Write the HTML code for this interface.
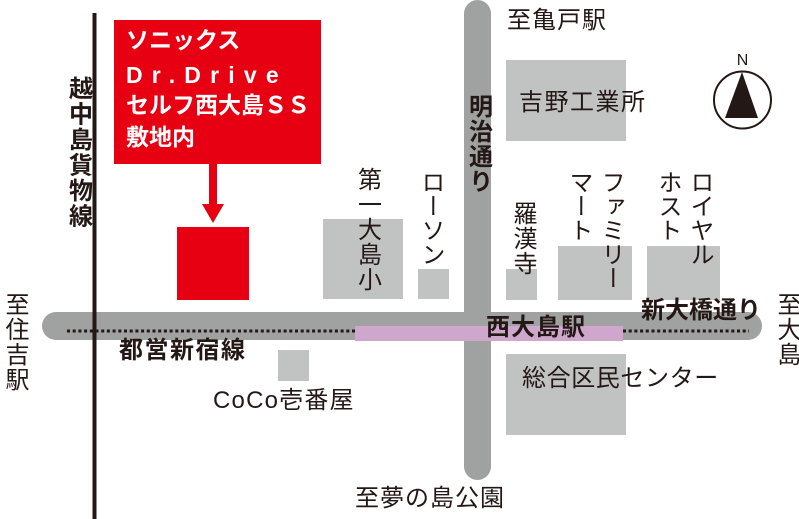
<!DOCTYPE html>
<html><head><meta charset="utf-8">
<style>
html,body{margin:0;padding:0;background:#fff;}
body{width:799px;height:519px;position:relative;overflow:hidden;font-family:"Liberation Sans","Noto Sans CJK JP",sans-serif;color:#231815;}
svg{position:absolute;left:0;top:0;}
.t{position:absolute;white-space:nowrap;font-size:24px;line-height:24px;}
.v{position:absolute;white-space:nowrap;font-size:24px;line-height:24px;writing-mode:vertical-rl;text-orientation:mixed;}
.b{font-weight:bold;}
.w{color:#fff;font-weight:bold;font-size:23px;line-height:23px;}
</style></head>
<body>
<svg width="799" height="519" viewBox="0 0 799 519">
  <!-- gray buildings -->
  <g fill="#c1c2c2">
    <rect x="506" y="60" width="120" height="81"/>
    <rect x="323" y="219" width="80" height="80"/>
    <rect x="418" y="269" width="31" height="30"/>
    <rect x="506" y="269" width="31" height="31"/>
    <rect x="558" y="246" width="74" height="54"/>
    <rect x="647" y="246" width="73" height="54"/>
    <rect x="506" y="354" width="120" height="81"/>
    <rect x="278" y="350" width="31" height="31"/>
  </g>
  <!-- roads -->
  <rect x="464" y="0" width="27" height="480" rx="13.5" fill="#a0a1a1"/>
  <rect x="42" y="312" width="720" height="28" rx="14" fill="#a0a1a1"/>
  <!-- station pink -->
  <rect x="355" y="326" width="268" height="15" fill="#cfa7cd"/>
  <!-- dotted rail -->
  <line x1="67" y1="331" x2="355" y2="331" stroke="#231815" stroke-width="3" stroke-dasharray="3 2.7"/>
  <line x1="623" y1="331" x2="749" y2="331" stroke="#231815" stroke-width="3" stroke-dasharray="3 2.7"/>
  <!-- black freight line -->
  <rect x="92.5" y="13" width="4" height="506" fill="#231815"/>
  <!-- red callout -->
  <rect x="114" y="20" width="207" height="144" fill="#e60012"/>
  <rect x="209" y="163" width="8" height="43" fill="#e60012"/>
  <polygon points="202,204 224,204 213,223" fill="#e60012"/>
  <rect x="177" y="227" width="72" height="73" fill="#e60012"/>
  <!-- compass -->
  <circle cx="742.5" cy="100" r="28.5" fill="none" stroke="#231815" stroke-width="2"/>
  <polygon points="742,72 725,118 758,118" fill="#231815"/>
  <text x="742.5" y="65" font-family="Liberation Sans, sans-serif" font-size="16" text-anchor="middle" fill="#231815">N</text>
</svg>

<!-- red box text -->
<div class="t w" style="left:126px;top:29px;">ソニックス</div>
<div class="t w" style="left:126px;top:64px;letter-spacing:9.2px;">Dr.Drive</div>
<div class="t w" style="left:126px;top:94px;">セルフ西大島ＳＳ</div>
<div class="t w" style="left:126px;top:126px;">敷地内</div>

<!-- vertical labels -->
<div class="v b" style="left:65.5px;top:76px;letter-spacing:1.5px;">越中島貨物線</div>
<div class="v b" style="left:465.5px;top:94px;letter-spacing:1px;">明治通り</div>
<div class="v" style="left:354.5px;top:167px;letter-spacing:1px;">第一大島小</div>
<div class="v" style="left:418px;top:170px;">ローソン</div>
<div class="v" style="left:510px;top:201px;letter-spacing:1px;">羅漢寺</div>
<div class="v" style="left:566px;top:170px;">マート</div>
<div class="v" style="left:598px;top:170px;">ファミリー</div>
<div class="v" style="left:655px;top:170px;">ホスト</div>
<div class="v" style="left:687px;top:170px;">ロイヤル</div>
<div class="v" style="left:2px;top:292px;letter-spacing:1px;">至住吉駅</div>
<div class="v" style="left:774px;top:292px;letter-spacing:1px;">至大島</div>

<!-- horizontal labels -->
<div class="t" style="left:507px;top:9px;letter-spacing:1px;">至亀戸駅</div>
<div class="t" style="left:519px;top:91px;letter-spacing:1.5px;">吉野工業所</div>
<div class="t b" style="left:119px;top:339px;letter-spacing:1.5px;">都営新宿線</div>
<div class="t b" style="left:486px;top:316px;letter-spacing:1px;">西大島駅</div>
<div class="t b" style="left:641px;top:299px;">新大橋通り</div>
<div class="t" style="left:522px;top:367px;letter-spacing:0.6px;">総合区民センター</div>
<div class="t" style="left:213px;top:389px;letter-spacing:1.2px;">CoCo壱番屋</div>
<div class="t" style="left:355px;top:487px;letter-spacing:1px;">至夢の島公園</div>
</body></html>
